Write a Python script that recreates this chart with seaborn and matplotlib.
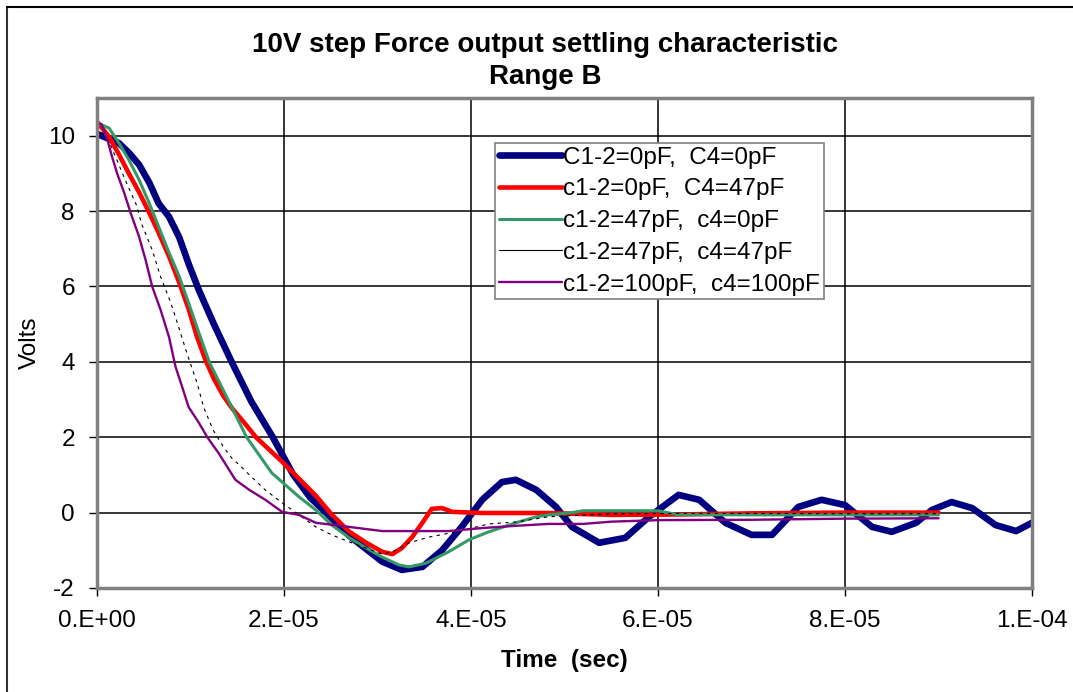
import numpy as np
import matplotlib
matplotlib.use('Agg')
import matplotlib.pyplot as plt
import matplotlib.ticker as mticker
import seaborn as sns

# time in microseconds, values in volts
t_c0_c0 = [0, 2.35, 3.4, 4.5, 5.6, 6.6, 7.7, 8.8, 9.8, 10.9, 12.5, 14.4, 16.5, 18.8, 21,
           22.8, 24.5, 27, 30.5, 32.6, 34.8, 36.9, 39, 41.2, 43.3, 44.8, 47, 49.1, 50.8,
           53.7, 56.5, 59, 62.2, 64.4, 67.2, 70, 72.2, 75, 77.5, 80, 82.9, 85, 87.6,
           89.3, 91.4, 93.6, 96.1, 98.3, 100]
v_c0_c0 = [10.05, 9.8, 9.55, 9.23, 8.75, 8.2, 7.85, 7.3, 6.6, 5.9, 5.0, 4.0, 2.95, 2.0, 1.0,
           0.4, 0.0, -0.62, -1.3, -1.52, -1.44, -1.0, -0.38, 0.34, 0.81, 0.87, 0.6, 0.15,
           -0.38, -0.8, -0.67, -0.12, 0.47, 0.34, -0.27, -0.59, -0.59, 0.15, 0.34, 0.2,
           -0.38, -0.51, -0.27, 0.07, 0.28, 0.12, -0.33, -0.49, -0.27]

t_c0_c47 = [0, 1.3, 2.35, 3.4, 4.5, 5.6, 6.6, 7.7, 8.8, 9.8, 10.7, 11.6, 12.5, 13.5, 14.5,
            15.7, 17, 19.8, 21.6, 23.4, 25.1, 27, 28.8, 30.5, 31.6, 32.6, 33.7, 34.8,
            35.8, 36.9, 38, 41.2, 48.3, 55, 62, 70, 80, 90]
v_c0_c47 = [10.37, 9.97, 9.5, 9.0, 8.5, 7.95, 7.42, 6.8, 6.1, 5.4, 4.66, 4.05, 3.55, 3.1,
            2.75, 2.4, 2.0, 1.35, 0.9, 0.45, -0.05, -0.51, -0.8, -1.04, -1.1, -0.94,
            -0.65, -0.27, 0.1, 0.12, 0.02, -0.01, -0.01, -0.06, -0.05, -0.02, 0.0, 0.0]

t_c47_c0 = [0, 1.3, 2.35, 3.4, 4.5, 5.6, 6.6, 7.7, 8.8, 9.8, 10.9, 12, 14, 16, 18.7,
            19.8, 21.6, 23.4, 25.1, 27, 28.8, 30.5, 32.3, 33.4, 35.2, 37.6, 39.8, 41.9,
            44.8, 47, 48.3, 50.8, 52, 56, 60, 62, 70, 80, 90]
v_c47_c0 = [10.34, 10.2, 9.8, 9.36, 8.83, 8.2, 7.58, 6.9, 6.26, 5.56, 4.77, 4.0, 3.0, 2.0,
            1.05, 0.81, 0.42, 0.07, -0.33, -0.67, -0.94, -1.18, -1.39, -1.44, -1.34,
            -1.04, -0.72, -0.51, -0.27, -0.11, -0.06, 0.0, 0.05, 0.05, 0.05, -0.05,
            -0.06, -0.06, -0.06]

t_c47_c47 = [0, 1.3, 3.1, 4.2, 4.8, 5.9, 6.8, 7.9, 8.7, 9.6, 10.7, 11.4, 12.4, 13.5, 14.4,
             15.2, 16.3, 18, 19.8, 23.4, 25.1, 27, 28.8, 30.5, 31.6, 33.4, 35.5, 38.4,
             41.9, 44.8, 48.3, 55, 65, 80, 90]
v_c47_c47 = [10.25, 9.84, 8.78, 8.17, 7.64, 6.97, 6.26, 5.56, 4.95, 4.24, 3.44, 2.8, 2.2,
             1.75, 1.45, 1.27, 1.0, 0.6, 0.26, -0.38, -0.59, -0.78, -0.94, -1.1, -1.04,
             -0.8, -0.65, -0.51, -0.3, -0.25, -0.11, -0.03, -0.02, -0.03, -0.03]

t_c100_c100 = [0, 0.5, 1.1, 1.6, 2.15, 2.9, 3.6, 4.5, 5.2, 5.9, 6.8, 7.7, 8.4, 9.1, 9.8,
               10.9, 11.8, 13, 14.8, 16.3, 18, 19.8, 21.6, 23.4, 27, 30.5, 34.1, 37.6,
               41.2, 44.8, 48.3, 52, 55, 60, 70, 80, 90]
v_c100_c100 = [10.34, 10.3, 9.9, 9.45, 9.0, 8.49, 7.95, 7.32, 6.7, 6.0, 5.38, 4.66, 3.87,
               3.34, 2.8, 2.38, 2.0, 1.58, 0.87, 0.6, 0.34, 0.02, -0.06, -0.27, -0.38,
               -0.49, -0.49, -0.49, -0.41, -0.35, -0.3, -0.3, -0.24, -0.2, -0.19, -0.16,
               -0.15]

labels = ['C1-2=0pF,  C4=0pF', 'c1-2=0pF,  C4=47pF', 'c1-2=47pF,  c4=0pF',
          'c1-2=47pF,  c4=47pF', 'c1-2=100pF,  c4=100pF']
colors = ['#000080', '#FF0000', '#339966', '#000000', '#800080']
widths = [4.8, 3.3, 2.2, 0.8, 1.7]

series = [(t_c0_c0, v_c0_c0), (t_c0_c47, v_c0_c47), (t_c47_c0, v_c47_c0),
          (t_c47_c47, v_c47_c47), (t_c100_c100, v_c100_c100)]

sns.set_theme(style='white')
plt.rcParams['font.family'] = ['Liberation Sans', 'DejaVu Sans']
plt.rcParams['axes.unicode_minus'] = False
plt.rcParams['text.color'] = 'black'
plt.rcParams['axes.labelcolor'] = 'black'
plt.rcParams['xtick.color'] = 'black'
plt.rcParams['ytick.color'] = 'black'

fig = plt.figure(figsize=(10.73, 6.92), dpi=100)
ax = fig.add_axes([0.0904, 0.1503, 0.8714, 0.7081])

for (t, v), lab, col, lw in zip(series, labels, colors, widths):
    ls = (0, (3, 4)) if col == '#000000' else '-'
    sns.lineplot(x=np.array(t) * 1e-6, y=v, color=col, linewidth=lw, label=lab,
                 linestyle=ls, ax=ax)

ax.set_xlim(0, 1e-4)
ax.set_ylim(-2, 11)
ax.set_xticks(np.arange(0, 1.01e-4, 2e-5))
ax.set_yticks(range(-2, 11, 2))
ax.xaxis.set_major_formatter(mticker.FuncFormatter(lambda v, p: format(v, '#.0E')))
ax.grid(True, color='black', linewidth=1.1)
ax.set_axisbelow(True)

for side in ['top', 'right', 'bottom', 'left']:
    ax.spines[side].set_color('#808080')
    ax.spines[side].set_linewidth(2.5)

ax.tick_params(axis='both', direction='out', length=6, width=1, color='black',
               labelsize=17.5, bottom=True, left=True)
ax.tick_params(axis='x', pad=10)
ax.tick_params(axis='y', pad=10)

ax.set_xlabel('Time  (sec)', fontsize=17.5, fontweight='bold', labelpad=12)
ax.set_ylabel('Volts', fontsize=17.5, labelpad=5)

fig.text(0.508, 1 - 45 / 692, '10V step Force output settling characteristic',
         ha='center', va='center', fontsize=20, fontweight='bold')
fig.text(0.508, 1 - 77 / 692, 'Range B', ha='center', va='center',
         fontsize=20, fontweight='bold')

leg = ax.legend(loc='upper left', bbox_to_anchor=(0.4257, 0.908), borderaxespad=0,
                fontsize=17.5, frameon=True, fancybox=False, framealpha=1,
                edgecolor='#808080', handlelength=2.6, handletextpad=0.05,
                labelspacing=0.4, borderpad=0.15)
leg.get_frame().set_linewidth(1.2)
for h in leg.get_lines():
    h.set_linestyle('-')

# outer chart border (left and top)
fig.add_artist(plt.Line2D([7 / 1073, 7 / 1073], [0, 1 - 7 / 692], color='#303030',
                          linewidth=1.5, transform=fig.transFigure))
fig.add_artist(plt.Line2D([7 / 1073, 1], [1 - 7 / 692, 1 - 7 / 692], color='black',
                          linewidth=1.5, transform=fig.transFigure))

fig.savefig('out.png', dpi=100)
